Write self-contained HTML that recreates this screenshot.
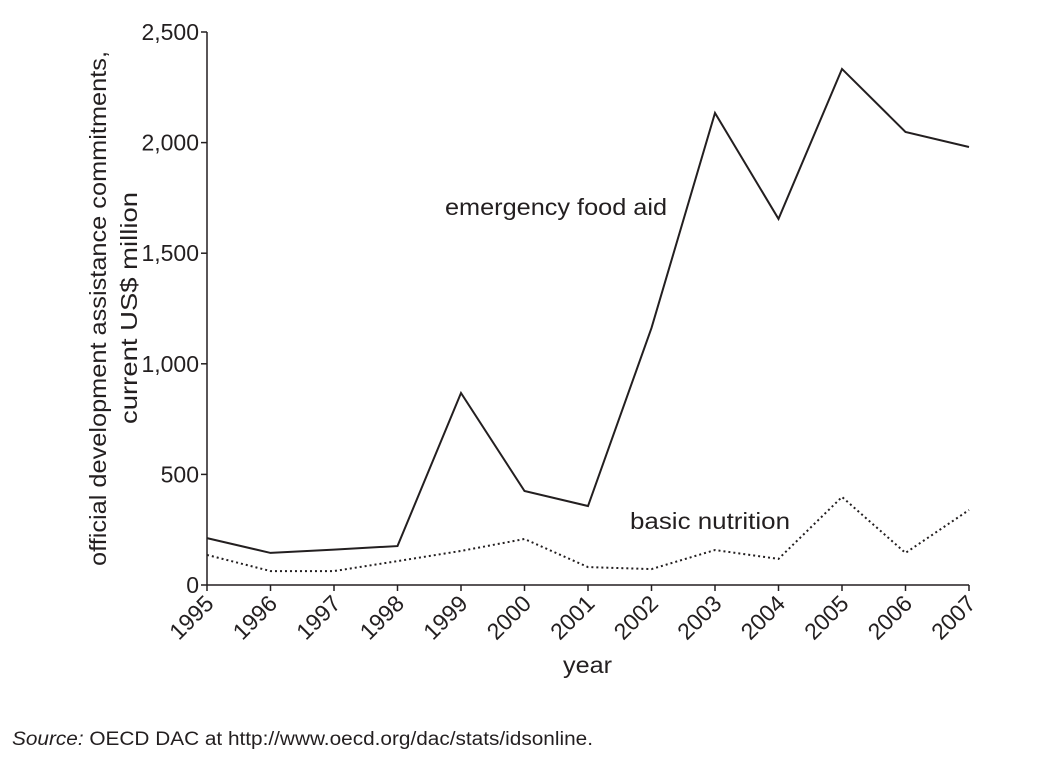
<!DOCTYPE html>
<html><head><meta charset="utf-8"><style>
body{margin:0;background:#fff;width:1039px;height:757px;overflow:hidden;font-family:"Liberation Sans",sans-serif;}
svg text{font-family:"Liberation Sans",sans-serif;fill:#231f20;}
</style></head><body>
<svg width="1039" height="757" id="c"></svg>
<script>
const years=["1995","1996","1997","1998","1999","2000","2001","2002","2003","2004","2005","2006","2007"];
const emergencyFoodAid=[212,145,160,176,868,425,357,1162,2134,1655,2333,2048,1980];
const basicNutrition=[136,63,63,108,154,208,81,72,158,118,398,145,339];
const yTicks=[0,500,1000,1500,2000,2500];
const yTickLabels=["0","500","1,000","1,500","2,000","2,500"];
const NS="http://www.w3.org/2000/svg";
const svg=document.getElementById('c');
const x0=207,x1=969,y0=585,y1=32;
function xs(i){return x0+(x1-x0)*i/(years.length-1);}
function ys(v){return y0-(y0-y1)*v/2500;}
function el(t,a,txt){const e=document.createElementNS(NS,t);for(const k in a)e.setAttribute(k,a[k]);if(txt!==undefined)e.textContent=txt;svg.appendChild(e);return e;}
let e=el('line',{x1:x0,y1:y1,x2:x0,y2:y0,stroke:'#231f20','stroke-width':1.5});

e=el('line',{x1:x0,y1:y0,x2:x1,y2:y0,stroke:'#231f20','stroke-width':1.5});

yTicks.forEach((v,i)=>{
 let t=el('line',{x1:x0-6,y1:ys(v),x2:x0,y2:ys(v),stroke:'#231f20','stroke-width':1.5});
 
 let l=el('text',{x:x0-8,y:ys(v)+8,'text-anchor':'end','font-size':23},yTickLabels[i]);
 
});
years.forEach((yr,i)=>{
 let t=el('line',{x1:xs(i),y1:y0,x2:xs(i),y2:y0+6,stroke:'#231f20','stroke-width':1.5});
 
 let lx=xs(i)+8,ly=y0+20;
 let l=el('text',{x:lx,y:ly,'text-anchor':'end','font-size':23,transform:`rotate(-45 ${lx} ${ly})`},yr);
 
});
function pts(a){return a.map((v,i)=>xs(i)+','+ys(v)).join(' ');}
e=el('polyline',{points:pts(emergencyFoodAid),fill:'none',stroke:'#231f20','stroke-width':2});

e=el('polyline',{points:pts(basicNutrition),fill:'none',stroke:'#231f20','stroke-width':2,'stroke-dasharray':'2,3'});

e=el('text',{x:445,y:215,'font-size':23,textLength:222,lengthAdjust:'spacingAndGlyphs'},'emergency food aid');

e=el('text',{x:630,y:529,'font-size':23,textLength:160,lengthAdjust:'spacingAndGlyphs'},'basic nutrition');

e=el('text',{x:563,y:673,'font-size':23,textLength:49,lengthAdjust:'spacingAndGlyphs'},'year');

e=el('text',{'font-size':23,transform:'translate(106 566) rotate(-90)',textLength:515,lengthAdjust:'spacingAndGlyphs'},'official development assistance commitments,');

e=el('text',{'font-size':23,'text-anchor':'middle',transform:'translate(137 308) rotate(-90)',textLength:232,lengthAdjust:'spacingAndGlyphs'},'current US$ million');

e=el('text',{x:12,y:745,'font-size':19,textLength:581,lengthAdjust:'spacingAndGlyphs'});

e.innerHTML='<tspan font-style="italic">Source:</tspan> OECD DAC at http://www.oecd.org/dac/stats/idsonline.';
</script>
</body></html>
